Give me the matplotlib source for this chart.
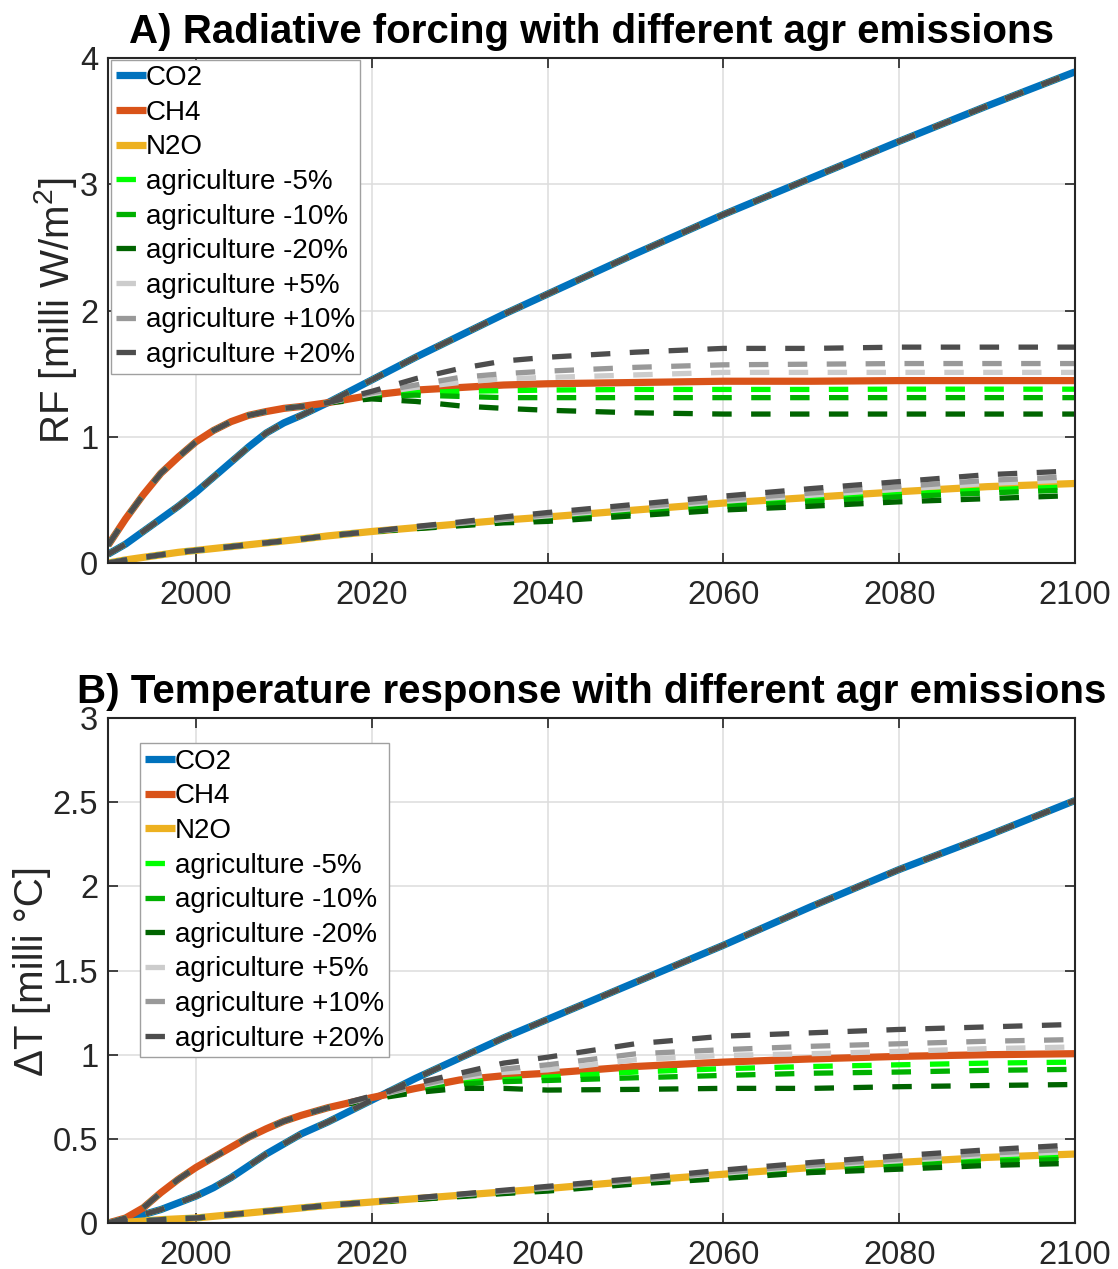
import matplotlib.pyplot as plt
import numpy as np

plt.rcParams['font.family'] = ['Liberation Sans', 'DejaVu Sans']
plt.rcParams['mathtext.fontset'] = 'custom'
plt.rcParams['mathtext.rm'] = 'Liberation Sans'
plt.rcParams['lines.scale_dashes'] = False

# years of the read-off points; scenarios split from the baseline at 2015
years = [1990, 1992, 1994, 1996, 1998, 2000, 2002, 2004, 2006, 2008, 2010, 2012,
         2015, 2020, 2025, 2030, 2035, 2040, 2050, 2060, 2070, 2080, 2090, 2100]
split_idx = 12  # index of 2015

gas_names = ['CO2', 'CH4', 'N2O']
scen_labels = ['agriculture -5%', 'agriculture -10%', 'agriculture -20%',
               'agriculture +5%', 'agriculture +10%', 'agriculture +20%']

# --- A) radiative forcing [milli W/m2], baseline
co2_rf = [0.07, 0.15, 0.25, 0.35, 0.45, 0.56, 0.68, 0.80, 0.92, 1.03, 1.11, 1.17,
          1.27, 1.45, 1.63, 1.80, 1.97, 2.13, 2.45, 2.76, 3.05, 3.34, 3.62, 3.89]
ch4_rf = [0.14, 0.35, 0.54, 0.71, 0.84, 0.96, 1.05, 1.12, 1.17, 1.20, 1.225, 1.24,
          1.27, 1.33, 1.37, 1.39, 1.41, 1.42, 1.43, 1.44, 1.44, 1.445, 1.445, 1.445]
n2o_rf = [0.0, 0.025, 0.045, 0.065, 0.085, 0.10, 0.115, 0.13, 0.145, 0.16, 0.175, 0.19,
          0.215, 0.25, 0.28, 0.31, 0.34, 0.365, 0.42, 0.475, 0.52, 0.565, 0.605, 0.63]

# scenario values from 2015 on (CO2 is unchanged by the scenarios)
ch4_rf_scen = [
    [1.27, 1.325, 1.35, 1.36, 1.365, 1.37, 1.375, 1.375, 1.375, 1.377, 1.377, 1.377],
    [1.27, 1.32, 1.33, 1.32, 1.31, 1.31, 1.31, 1.31, 1.31, 1.31, 1.31, 1.31],
    [1.27, 1.30, 1.28, 1.245, 1.225, 1.21, 1.19, 1.18, 1.18, 1.18, 1.18, 1.18],
    [1.27, 1.34, 1.39, 1.43, 1.46, 1.47, 1.49, 1.51, 1.51, 1.51, 1.51, 1.51],
    [1.27, 1.35, 1.41, 1.47, 1.50, 1.52, 1.55, 1.57, 1.575, 1.58, 1.58, 1.58],
    [1.27, 1.36, 1.46, 1.54, 1.60, 1.63, 1.67, 1.70, 1.70, 1.71, 1.71, 1.71],
]
n2o_rf_scen = [
    [0.215, 0.25, 0.278, 0.306, 0.335, 0.356, 0.408, 0.461, 0.503, 0.545, 0.58, 0.605],
    [0.215, 0.25, 0.276, 0.302, 0.33, 0.347, 0.397, 0.447, 0.485, 0.525, 0.555, 0.58],
    [0.215, 0.25, 0.272, 0.295, 0.318, 0.33, 0.375, 0.42, 0.45, 0.485, 0.51, 0.535],
    [0.215, 0.25, 0.282, 0.314, 0.345, 0.374, 0.432, 0.489, 0.537, 0.585, 0.63, 0.66],
    [0.215, 0.25, 0.285, 0.318, 0.35, 0.383, 0.443, 0.503, 0.555, 0.605, 0.655, 0.685],
    [0.215, 0.25, 0.29, 0.325, 0.365, 0.40, 0.465, 0.53, 0.59, 0.645, 0.70, 0.73],
]

# --- B) temperature response [milli degC], baseline
co2_dt = [0.0, 0.02, 0.05, 0.08, 0.12, 0.16, 0.21, 0.27, 0.34, 0.41, 0.47, 0.53,
          0.60, 0.73, 0.86, 0.98, 1.10, 1.21, 1.43, 1.65, 1.88, 2.10, 2.30, 2.51]
ch4_dt = [0.0, 0.03, 0.09, 0.18, 0.26, 0.33, 0.39, 0.45, 0.51, 0.56, 0.605, 0.64,
          0.685, 0.745, 0.80, 0.85, 0.875, 0.89, 0.93, 0.956, 0.975, 0.99, 1.0, 1.006]
n2o_dt = [0.0, 0.005, 0.012, 0.02, 0.025, 0.03, 0.04, 0.05, 0.06, 0.07, 0.08, 0.09,
          0.105, 0.125, 0.145, 0.165, 0.185, 0.205, 0.25, 0.29, 0.33, 0.36, 0.39, 0.41]

ch4_dt_scen = [
    [0.685, 0.742, 0.79, 0.835, 0.85, 0.867, 0.897, 0.917, 0.93, 0.94, 0.95, 0.956],
    [0.685, 0.74, 0.785, 0.825, 0.84, 0.847, 0.863, 0.877, 0.89, 0.897, 0.907, 0.913],
    [0.685, 0.735, 0.775, 0.80, 0.80, 0.79, 0.794, 0.80, 0.80, 0.81, 0.817, 0.823],
    [0.685, 0.748, 0.81, 0.86, 0.895, 0.91, 0.97, 0.996, 1.006, 1.02, 1.036, 1.046],
    [0.685, 0.75, 0.815, 0.87, 0.915, 0.94, 1.005, 1.03, 1.05, 1.065, 1.08, 1.09],
    [0.685, 0.755, 0.83, 0.89, 0.95, 0.985, 1.065, 1.11, 1.13, 1.15, 1.165, 1.18],
]
n2o_dt_scen = [
    [0.105, 0.125, 0.143, 0.163, 0.182, 0.202, 0.246, 0.284, 0.322, 0.35, 0.377, 0.395],
    [0.105, 0.125, 0.142, 0.161, 0.18, 0.198, 0.241, 0.278, 0.315, 0.34, 0.365, 0.38],
    [0.105, 0.125, 0.14, 0.157, 0.175, 0.19, 0.232, 0.265, 0.30, 0.32, 0.342, 0.355],
    [0.105, 0.125, 0.147, 0.167, 0.188, 0.208, 0.253, 0.296, 0.338, 0.37, 0.403, 0.425],
    [0.105, 0.125, 0.148, 0.169, 0.19, 0.212, 0.257, 0.302, 0.345, 0.38, 0.415, 0.44],
    [0.105, 0.125, 0.15, 0.172, 0.195, 0.218, 0.265, 0.315, 0.36, 0.40, 0.435, 0.465],
]

# styling
gas_colors = ['#0072BD', '#D95319', '#EDB120']
scen_colors = ['#00FF00', '#00B000', '#006400', '#CCCCCC', '#999999', '#4D4D4D']
tick_fs = 23.5
legend_fs = 20
title_fs = 29


def draw_panel(ax, base, ch4_scen, n2o_scen, ylim, yticks, ytlabels,
               ylabel, title, leg_anchor):
    for vals, name, col in zip(base, gas_names, gas_colors):
        ax.plot(years, vals, color=col, lw=5.2, label=name, solid_capstyle='butt')

    for k, (lab, col) in enumerate(zip(scen_labels, scen_colors)):
        co2 = base[0]
        ch4 = base[1][:split_idx] + ch4_scen[k]
        n2o = base[2][:split_idx] + n2o_scen[k]
        for j, vals in enumerate([co2, ch4, n2o]):
            ax.plot(years, vals, color=col, lw=3.8, dashes=(14, 14),
                    label=lab if j == 0 else None)

    ax.set_xlim(1990, 2100)
    ax.set_ylim(*ylim)
    ax.set_xticks([2000, 2020, 2040, 2060, 2080, 2100])
    ax.set_yticks(yticks)
    ax.set_yticklabels(ytlabels)
    ax.tick_params(axis='both', direction='in', length=7, width=1.2, top=True, right=True,
                   labelsize=tick_fs, colors='#262626')
    ax.tick_params(axis='x', pad=12)
    ax.tick_params(axis='y', pad=7)
    ax.grid(True, color='#DDDDDD', linewidth=1.1)
    ax.set_axisbelow(True)
    for sp in ax.spines.values():
        sp.set_color('#262626')
        sp.set_linewidth(1.5)
    ax.set_ylabel(ylabel, fontsize=title_fs, color='#262626', labelpad=1)
    ax.set_title(title, fontsize=title_fs, fontweight='bold', pad=11)

    leg = ax.legend(loc='upper left', bbox_to_anchor=leg_anchor, fontsize=legend_fs,
                    frameon=True, fancybox=False, edgecolor='#A0A0A0', framealpha=1,
                    handlelength=1.05, handletextpad=0.0, labelspacing=0.31,
                    borderpad=0.2, borderaxespad=0.0)
    leg.get_frame().set_linewidth(1.0)


fig = plt.figure(figsize=(11.18, 12.69), dpi=100)
axA = fig.add_axes([0.0966, 0.5563, 0.8649, 0.3980])
axB = fig.add_axes([0.0966, 0.0362, 0.8649, 0.3980])

draw_panel(axA, [co2_rf, ch4_rf, n2o_rf], ch4_rf_scen, n2o_rf_scen,
           (0, 4), [0, 1, 2, 3, 4], ['0', '1', '2', '3', '4'],
           'RF [milli W/m$^2$]', 'A) Radiative forcing with different agr emissions',
           (0.003, 0.997))
draw_panel(axB, [co2_dt, ch4_dt, n2o_dt], ch4_dt_scen, n2o_dt_scen,
           (0, 3), [0, 0.5, 1, 1.5, 2, 2.5, 3], ['0', '0.5', '1', '1.5', '2', '2.5', '3'],
           '\u0394T [milli \u00b0C]', 'B) Temperature response with different agr emissions',
           (0.033, 0.95))

fig.savefig('out.png', dpi=100, facecolor='white')
